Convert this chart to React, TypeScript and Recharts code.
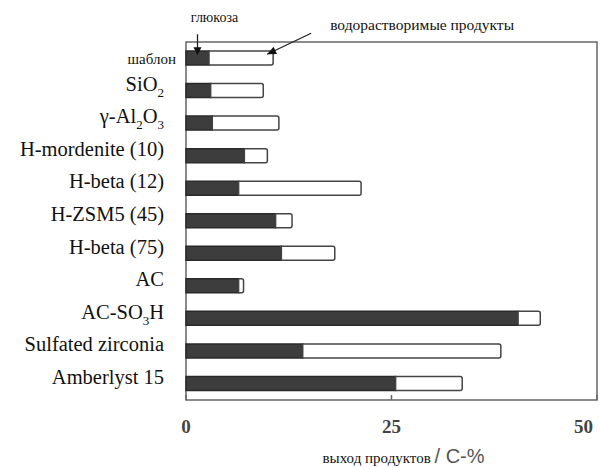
import React from 'react';
import { BarChart, Bar, XAxis, YAxis, ReferenceArea, ReferenceDot } from 'recharts';

// "_n" marks a subscript digit in a catalyst name
const catalysts = ['шаблон', 'SiO_2', 'γ-Al_2O_3', 'H-mordenite (10)', 'H-beta (12)', 'H-ZSM5 (45)', 'H-beta (75)', 'AC', 'AC-SO_3H', 'Sulfated zirconia', 'Amberlyst 15'];
const glucose = [2.8, 3.0, 3.2, 7.1, 6.4, 10.9, 11.6, 6.4, 40.4, 14.2, 25.5];
const waterSoluble = [7.8, 6.4, 8.1, 2.8, 14.9, 2.0, 6.5, 0.6, 2.7, 24.1, 8.1];
const xTicks = [0, 25, 50];

const data = catalysts.map((name, i) => ({ name, glucose: glucose[i], soluble: waterSoluble[i] }));

const SERIF = '"Liberation Serif", "Times New Roman", serif';

const CatalystTick = (props: any) => {
  const { x, y, payload } = props;
  const label: string = payload.value;
  if (label === 'шаблон') {
    return (
      <text x={x + 12} y={y} dy={6} textAnchor="end" fontFamily={SERIF} fontSize={15} fill="#111">
        {label}
      </text>
    );
  }
  const parts = label.split(/_(\d)/);
  const spans: React.ReactNode[] = [];
  parts.forEach((p, i) => {
    if (i % 2 === 1) {
      spans.push(<tspan key={i} dy={6} fontSize={13}>{p}</tspan>);
    } else if (p) {
      spans.push(<tspan key={i} dy={i > 0 ? -6 : 0}>{p}</tspan>);
    }
  });
  return (
    <text x={x} y={y} dy={7} textAnchor="end" fontFamily={SERIF} fontSize={20.5} fill="#111">
      {spans}
    </text>
  );
};

const YieldTick = (props: any) => {
  const { x, y, payload } = props;
  const last = payload.value === xTicks[xTicks.length - 1];
  return (
    <text x={last ? x + 1 : x} y={y} dy={28} textAnchor={last ? 'end' : 'middle'} fontFamily={SERIF} fontWeight="bold" fontSize={19} fill="#444">
      {payload.value}
    </text>
  );
};

const AxisTitle = (props: any) => {
  const vb = props.viewBox;
  const cx = vb.x + vb.width / 2;
  return (
    <text x={cx - 69} y={vb.y + 63}>
      <tspan fontFamily={SERIF} fontSize={15} fill="#111">выход продуктов </tspan>
      <tspan fontFamily='"Liberation Sans", Arial, sans-serif' fontSize={20} fill="#555">/ C-%</tspan>
    </text>
  );
};

const GlucoseNote = (props: any) => {
  const { cx, cy } = props;
  return (
    <g>
      <text x={cx + 17} y={cy - 36} textAnchor="middle" fontFamily={SERIF} fontSize={14} fill="#111">глюкоза</text>
      <line x1={cx} y1={cy - 24} x2={cx} y2={cy - 10} stroke="#222" strokeWidth={1.3} />
      <polygon points={`${cx - 4},${cy - 11} ${cx + 4},${cy - 11} ${cx},${cy - 3}`} fill="#111" />
    </g>
  );
};

const SolubleNote = (props: any) => {
  const { cx, cy } = props;
  const tipX = cx - 6;
  const tipY = cy - 4;
  const fromX = cx + 38;
  const fromY = cy - 25;
  const angle = (Math.atan2(tipY - fromY, tipX - fromX) * 180) / Math.PI;
  return (
    <g>
      <text x={cx + 57} y={cy - 28} fontFamily={SERIF} fontSize={15.5} fill="#111">водорастворимые продукты</text>
      <line x1={fromX} y1={fromY} x2={tipX} y2={tipY} stroke="#222" strokeWidth={1.3} />
      <polygon points="0,0 -9,-4 -9,4" fill="#111" transform={`translate(${tipX},${tipY}) rotate(${angle})`} />
    </g>
  );
};

export default function App() {
  return (
    <div style={{ position: 'absolute', left: 0, top: 0, width: 600, height: 468, background: '#fff' }}>
      <BarChart
        width={600}
        height={468}
        data={data}
        layout="vertical"
        margin={{ top: 42, right: 3, bottom: 0, left: 0 }}
        barSize={14}
      >
        <XAxis
          type="number"
          domain={[0, 50]}
          ticks={xTicks}
          height={68}
          axisLine={false}
          tickSize={-5}
          tickMargin={10}
          tickLine={{ stroke: '#666', strokeWidth: 1.5 }}
          tick={<YieldTick />}
          label={{ content: <AxisTitle /> }}
        />
        <YAxis
          type="category"
          dataKey="name"
          width={186}
          axisLine={false}
          tickLine={false}
          tickSize={0}
          tickMargin={22}
          tick={<CatalystTick />}
          interval={0}
        />
        <ReferenceArea x1={0} x2={50} fill="none" stroke="#666" strokeWidth={1.5} fillOpacity={0} />
        <Bar dataKey="glucose" stackId="a" fill="#3d3d3d" stroke="#2a2a2a" strokeWidth={1.5} isAnimationActive={false} />
        <Bar dataKey="soluble" stackId="a" fill="#ffffff" stroke="#444" strokeWidth={1.5} radius={[0, 2, 2, 0]} isAnimationActive={false} />
        <ReferenceDot x={glucose[0] / 2} y={catalysts[0]} shape={<GlucoseNote />} />
        <ReferenceDot x={glucose[0] + waterSoluble[0]} y={catalysts[0]} shape={<SolubleNote />} />
      </BarChart>
    </div>
  );
}
